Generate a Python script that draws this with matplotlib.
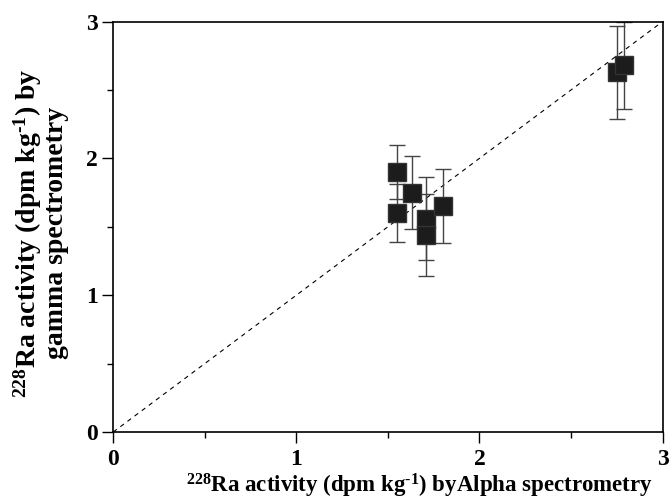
import matplotlib
matplotlib.use('Agg')
import matplotlib.pyplot as plt

# fonts: bold serif everywhere, incl. superscripts in mathtext
plt.rcParams['font.family'] = 'Liberation Serif'
plt.rcParams['font.weight'] = 'bold'
plt.rcParams['mathtext.fontset'] = 'custom'
plt.rcParams['mathtext.rm'] = 'Liberation Serif:bold'
plt.rcParams['mathtext.it'] = 'Liberation Serif:bold'
plt.rcParams['mathtext.bf'] = 'Liberation Serif:bold'

# data
alpha_ra = [1.55, 1.55, 1.63, 1.71, 1.71, 1.80, 2.75, 2.79]
gamma_ra = [1.90, 1.60, 1.75, 1.56, 1.44, 1.65, 2.63, 2.68]
gamma_err = [0.20, 0.21, 0.27, 0.30, 0.30, 0.27, 0.34, 0.32]
ticks = [0, 1, 2, 3]

fig = plt.figure(figsize=(6.7, 5.0), dpi=100)
ax = fig.add_axes([0.169, 0.136, 0.820, 0.821])

ax.plot([0, 3], [0, 3], ls=(0, (4, 4)), color='black', lw=0.8)   # 1:1 line
ax.errorbar(alpha_ra, gamma_ra, yerr=gamma_err, fmt='s', color='#1c1c1c',
            ms=12.5, mec='#333333', ecolor='#444444', elinewidth=1.0,
            capsize=6, capthick=1.0)

ax.set_xlim(0, 3)
ax.set_ylim(0, 3)
ax.set_xticks(ticks)
ax.set_yticks(ticks)
ax.set_xticks([0.5, 1.5, 2.5], minor=True)
ax.set_yticks([0.5, 1.5, 2.5], minor=True)
ax.tick_params(which='major', direction='out', length=8, width=1.0, labelsize=17)
ax.tick_params(which='minor', direction='out', length=4, width=1.0)
ax.tick_params(axis='x', which='major', pad=4)
ax.tick_params(axis='y', which='major', pad=3)
for s in ax.spines.values():
    s.set_linewidth(1.2)

ax.set_xlabel(r'$^{228}$Ra activity (dpm kg$^{\text{-1}}$) byAlpha spectrometry',
              fontsize=16.5, fontweight='bold')
ax.xaxis.set_label_coords(0.557, -0.098)
ax.set_ylabel('$^{228}$Ra activity (dpm kg$^{\\text{-1}}$) by\ngamma spectrometry',
              fontsize=20, fontweight='bold', linespacing=1.0)
ax.yaxis.set_label_coords(-0.08, 0.485)

fig.savefig('out.png', dpi=100)
